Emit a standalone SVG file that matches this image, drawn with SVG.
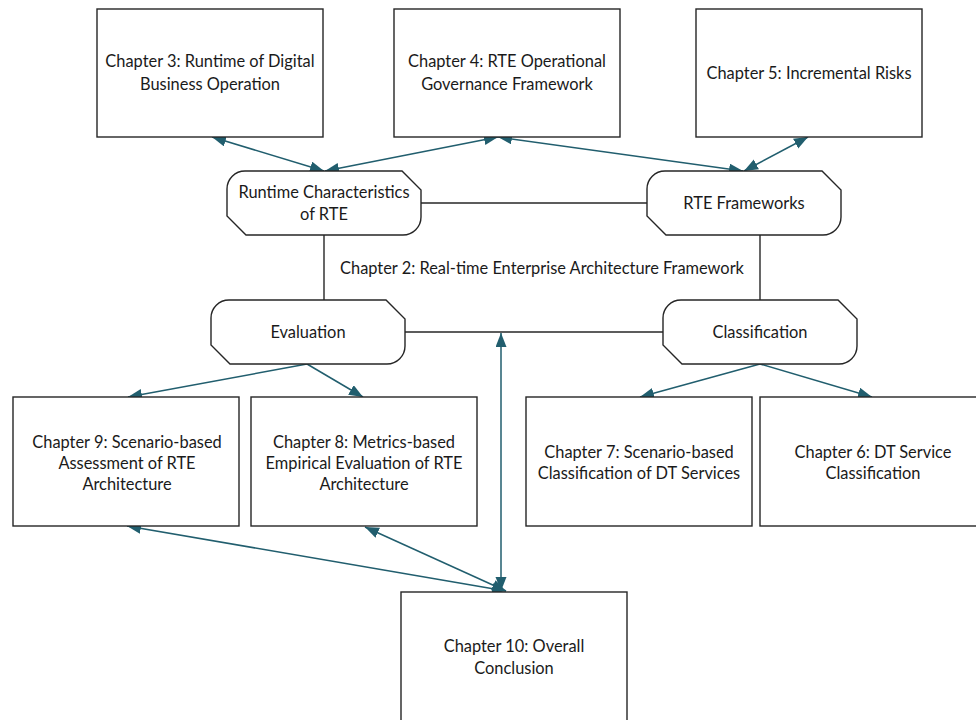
<svg xmlns="http://www.w3.org/2000/svg" width="976" height="720" viewBox="0 0 976 720">
  <style>
    .box { fill: #ffffff; stroke: #262626; stroke-width: 1.4; }
    .hub { fill: #ffffff; stroke: #262626; stroke-width: 1.4; }
    .link { fill: none; stroke: #262626; stroke-width: 1.4; }
    .arrow { fill: none; stroke: #215E6E; stroke-width: 1.5; }
    text { font-family: Lato, "Liberation Sans", Arial, sans-serif; font-size: 16.4px; fill: #1a1a1a; text-anchor: middle; }
  </style>
  <defs>
    <marker id="head" markerUnits="userSpaceOnUse" markerWidth="15" markerHeight="12" refX="14" refY="5.5" orient="auto-start-reverse">
      <path d="M0,0 L14,5.5 L0,11 Z" fill="#215E6E"/>
    </marker>
  </defs>

  <rect width="976" height="720" fill="#ffffff"/>

  <!-- plain connectors between the framework hubs, plus the chapter 2 caption -->
  <g id="connectors">
    <line class="link" x1="421" y1="203" x2="647" y2="203"/>
    <line class="link" x1="324" y1="235" x2="324" y2="300"/>
    <line class="link" x1="760" y1="235" x2="760" y2="300"/>
    <line class="link" x1="405" y1="332" x2="663" y2="332"/>

    <!-- top chapters to the upper hubs -->
    <line class="arrow" x1="212" y1="137" x2="324" y2="171" marker-start="url(#head)" marker-end="url(#head)"/>
    <line class="arrow" x1="498" y1="137" x2="325" y2="171" marker-start="url(#head)" marker-end="url(#head)"/>
    <line class="arrow" x1="498" y1="137" x2="743" y2="171" marker-start="url(#head)" marker-end="url(#head)"/>
    <line class="arrow" x1="808" y1="137" x2="744" y2="171" marker-start="url(#head)" marker-end="url(#head)"/>

    <!-- lower hubs to their chapters -->
    <line class="arrow" x1="307" y1="364" x2="128" y2="397" marker-end="url(#head)"/>
    <line class="arrow" x1="307" y1="364" x2="363" y2="397" marker-end="url(#head)"/>
    <line class="arrow" x1="760" y1="364" x2="640" y2="397" marker-end="url(#head)"/>
    <line class="arrow" x1="760" y1="364" x2="872" y2="397" marker-end="url(#head)"/>

    <!-- conclusion links -->
    <line class="arrow" x1="501" y1="333" x2="501" y2="591" marker-start="url(#head)" marker-end="url(#head)"/>
    <line class="arrow" x1="506" y1="591" x2="127" y2="526" marker-start="url(#head)" marker-end="url(#head)"/>
    <line class="arrow" x1="506" y1="591" x2="365" y2="527" marker-start="url(#head)" marker-end="url(#head)"/>

    <text x="542" y="274">Chapter 2: Real-time Enterprise Architecture Framework</text>
  </g>

  <g id="ch3">
    <rect class="box" x="97" y="9" width="226" height="128"/>
    <text x="210" y="67">Chapter 3: Runtime of Digital</text>
    <text x="210" y="90">Business Operation</text>
  </g>
  <g id="ch4">
    <rect class="box" x="394" y="9" width="226" height="128"/>
    <text x="507" y="67">Chapter 4: RTE Operational</text>
    <text x="507" y="90">Governance Framework</text>
  </g>
  <g id="ch5">
    <rect class="box" x="696" y="9" width="226" height="128"/>
    <text x="809" y="79">Chapter 5: Incremental Risks</text>
  </g>

  <g id="runtime-characteristics">
    <path class="hub" d="M245,171 H402 L421,190 V217 A18,18 0 0 1 403,235 H246 L227,216 V189 A18,18 0 0 1 245,171 Z"/>
    <text x="324" y="198">Runtime Characteristics</text>
    <text x="324" y="220">of RTE</text>
  </g>
  <g id="rte-frameworks">
    <path class="hub" d="M665,171 H822 L841,190 V217 A18,18 0 0 1 823,235 H666 L647,216 V189 A18,18 0 0 1 665,171 Z"/>
    <text x="744" y="209">RTE Frameworks</text>
  </g>
  <g id="evaluation">
    <path class="hub" d="M229,300 H386 L405,319 V346 A18,18 0 0 1 387,364 H230 L211,345 V318 A18,18 0 0 1 229,300 Z"/>
    <text x="308" y="338">Evaluation</text>
  </g>
  <g id="classification">
    <path class="hub" d="M681,300 H838 L857,319 V346 A18,18 0 0 1 839,364 H682 L663,345 V318 A18,18 0 0 1 681,300 Z"/>
    <text x="760" y="338">Classification</text>
  </g>

  <g id="ch9">
    <rect class="box" x="13" y="397" width="226" height="129"/>
    <text x="127" y="448">Chapter 9: Scenario-based</text>
    <text x="127" y="469">Assessment of RTE</text>
    <text x="127" y="490">Architecture</text>
  </g>
  <g id="ch8">
    <rect class="box" x="251" y="397" width="226" height="129"/>
    <text x="364" y="448">Chapter 8: Metrics-based</text>
    <text x="364" y="469">Empirical Evaluation of RTE</text>
    <text x="364" y="490">Architecture</text>
  </g>
  <g id="ch7">
    <rect class="box" x="526" y="397" width="226" height="129"/>
    <text x="639" y="458">Chapter 7: Scenario-based</text>
    <text x="639" y="479">Classification of DT Services</text>
  </g>
  <g id="ch6">
    <rect class="box" x="760" y="397" width="226" height="129"/>
    <text x="873" y="458">Chapter 6: DT Service</text>
    <text x="873" y="479">Classification</text>
  </g>
  <g id="ch10">
    <rect class="box" x="401" y="592" width="226" height="129"/>
    <text x="514" y="652">Chapter 10: Overall</text>
    <text x="514" y="674">Conclusion</text>
  </g>
</svg>
